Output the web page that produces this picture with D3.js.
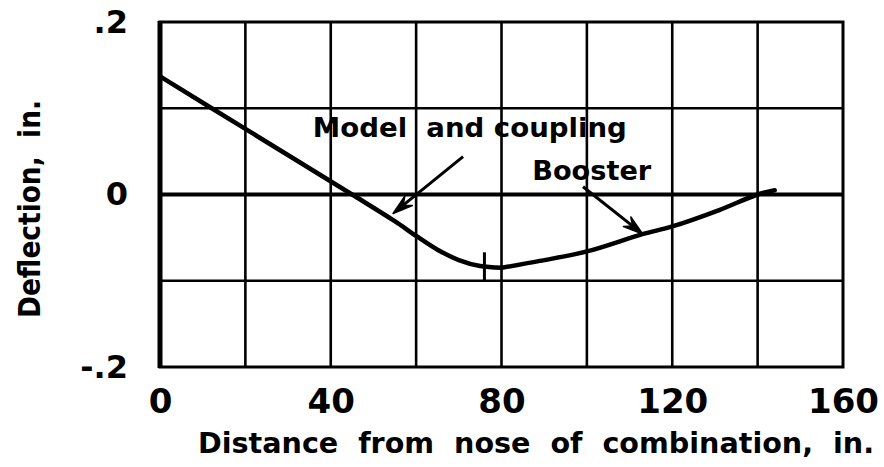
<!DOCTYPE html>
<html>
<head>
<meta charset="utf-8">
<script src="https://cdn.jsdelivr.net/npm/d3@7"></script>
<style>
  html, body { margin: 0; padding: 0; background: #fff; }
  svg { display: block; }
  text { font-family: "DejaVu Sans", "Liberation Sans", sans-serif; font-weight: bold; fill: #000; }
</style>
</head>
<body>
<svg id="chart" width="884" height="467"></svg>
<script>
// ---- data ----
const xTicks = [0, 40, 80, 120, 160];
const xTickLabels = ["0", "40", "80", "120", "160"];
const yTicks = [-0.2, 0, 0.2];
const yTickLabels = ["-.2", "0", ".2"];
const xGrid = [20, 40, 60, 80, 100, 120, 140];
const yGrid = [-0.1, 0.1];
const modelX = [0, 20, 45, 55, 60, 65, 70, 75, 80];
const modelY = [0.137, 0.076, 0.0, -0.031, -0.048, -0.064, -0.076, -0.083, -0.085];
const boosterX = [80, 89, 100, 113, 120, 131, 140, 144];
const boosterY = [-0.085, -0.077, -0.066, -0.046, -0.037, -0.018, 0.0, 0.005];
const jointX = [76];
const jointY0 = [-0.067];
const jointY1 = [-0.100];
const annotations = [
  { text: "Model  and coupling", tx: 35.8, ty: 0.067, from: [71, 0.044], to: [54.6, -0.022], len: 314 },
  { text: "Booster", tx: 87.2, ty: 0.017, from: [99.1, 0.009], to: [113.1, -0.046], len: 119 }
];
const xTitle = "Distance  from  nose  of  combination,  in.";
const yTitle = "Deflection,  in.";

// ---- chart ----
const svg = d3.select("#chart");
const x = d3.scaleLinear().domain([0, 160]).range([160, 843]);
const y = d3.scaleLinear().domain([-0.2, 0.2]).range([367, 22]);

// inner grid
svg.append("g").selectAll("line").data(xGrid).join("line")
  .attr("x1", d => x(d)).attr("x2", d => x(d))
  .attr("y1", y(0.2)).attr("y2", y(-0.2))
  .attr("stroke", "#000").attr("stroke-width", 2.6);
svg.append("g").selectAll("line").data(yGrid).join("line")
  .attr("x1", x(0)).attr("x2", x(160))
  .attr("y1", d => y(d)).attr("y2", d => y(d))
  .attr("stroke", "#000").attr("stroke-width", 2.6);
// zero line
svg.append("line")
  .attr("x1", x(0)).attr("x2", x(160)).attr("y1", y(0)).attr("y2", y(0))
  .attr("stroke", "#000").attr("stroke-width", 4);
// frame
svg.append("rect")
  .attr("x", x(0)).attr("y", y(0.2))
  .attr("width", x(160) - x(0)).attr("height", y(-0.2) - y(0.2))
  .attr("fill", "none").attr("stroke", "#000").attr("stroke-width", 3);
svg.append("line")
  .attr("x1", x(0)).attr("x2", x(0)).attr("y1", y(0.2) - 1).attr("y2", y(-0.2) + 1)
  .attr("stroke", "#000").attr("stroke-width", 5);

// axes (labels only)
const xAxis = d3.axisBottom(x).tickValues(xTicks)
  .tickFormat((d, i) => xTickLabels[i]).tickSize(0).tickPadding(22);
const gx = svg.append("g").attr("transform", `translate(0,${y(-0.2)})`).call(xAxis);
gx.select(".domain").remove();
gx.selectAll("text").attr("font-size", 34).style("font-family", '"DejaVu Sans", sans-serif')
  .style("font-weight", "bold").attr("fill", "#000");

const yAxis = d3.axisLeft(y).tickValues(yTicks)
  .tickFormat((d, i) => yTickLabels[i]).tickSize(0).tickPadding(32);
const gy = svg.append("g").attr("transform", `translate(${x(0)},0)`).call(yAxis);
gy.select(".domain").remove();
gy.selectAll("text").attr("font-size", 32).style("font-family", '"DejaVu Sans", sans-serif')
  .style("font-weight", "bold").attr("fill", "#000");

// curves
const line = d3.line().x(d => x(d[0])).y(d => y(d[1])).curve(d3.curveCatmullRom.alpha(0.5));
svg.append("path").datum(modelX.map((v, i) => [v, modelY[i]]))
  .attr("d", line).attr("fill", "none").attr("stroke", "#000").attr("stroke-width", 4.5)
  .attr("stroke-linejoin", "round");
svg.append("path").datum(boosterX.map((v, i) => [v, boosterY[i]]))
  .attr("d", line).attr("fill", "none").attr("stroke", "#000").attr("stroke-width", 4.5)
  .attr("stroke-linecap", "round");

// joint marker
svg.append("g").selectAll("line").data(jointX).join("line")
  .attr("x1", d => x(d)).attr("x2", d => x(d))
  .attr("y1", (d, i) => y(jointY0[i])).attr("y2", (d, i) => y(jointY1[i]))
  .attr("stroke", "#000").attr("stroke-width", 3);

// annotations
annotations.forEach(a => {
  svg.append("text").attr("x", x(a.tx)).attr("y", y(a.ty))
    .attr("font-size", 27).attr("textLength", a.len).attr("lengthAdjust", "spacingAndGlyphs")
    .style("white-space", "pre").attr("xml:space", "preserve")
    .text(a.text);
  const x0 = x(a.from[0]), y0 = y(a.from[1]), x1 = x(a.to[0]), y1 = y(a.to[1]);
  const ang = Math.atan2(y1 - y0, x1 - x0);
  const L = 20, W = 6, back = 13;
  svg.append("line").attr("x1", x0).attr("y1", y0)
    .attr("x2", x1 - Math.cos(ang) * 6).attr("y2", y1 - Math.sin(ang) * 6)
    .attr("stroke", "#000").attr("stroke-width", 3);
  const px = -Math.sin(ang), py = Math.cos(ang);
  const bx = x1 - Math.cos(ang) * L, by = y1 - Math.sin(ang) * L;
  const nx = x1 - Math.cos(ang) * back, ny = y1 - Math.sin(ang) * back;
  svg.append("path")
    .attr("d", `M${x1},${y1} L${bx + px * W},${by + py * W} L${nx},${ny} L${bx - px * W},${by - py * W} Z`)
    .attr("fill", "#000").attr("stroke", "#000").attr("stroke-width", 1.5).attr("stroke-linejoin", "round");
});

// axis titles
svg.append("text").attr("x", 536).attr("y", 453).attr("text-anchor", "middle")
  .attr("font-size", 29).attr("textLength", 676).attr("lengthAdjust", "spacingAndGlyphs")
  .attr("xml:space", "preserve").style("white-space", "pre").text(xTitle);
svg.append("text").attr("transform", "translate(40,209) rotate(-90)").attr("text-anchor", "middle")
  .attr("font-size", 30).attr("textLength", 218).attr("lengthAdjust", "spacingAndGlyphs")
  .attr("xml:space", "preserve").style("white-space", "pre").text(yTitle);
</script>
</body>
</html>
